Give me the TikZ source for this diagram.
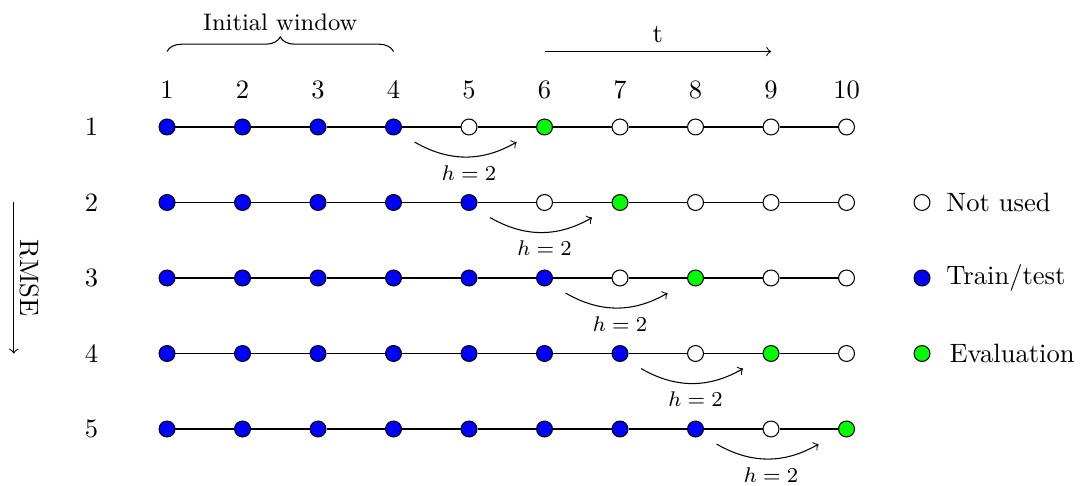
\documentclass[tikz,border=0pt]{standalone}
\usetikzlibrary{decorations.pathreplacing,calc}
\definecolor{evalgreen}{RGB}{0,255,0}
\begin{document}
\begin{tikzpicture}[
  pt/.style={circle,draw=black,thin,minimum size=6pt,inner sep=0pt},
  hlabel/.style={font=\footnotesize},
  link/.style={draw=black,thin},
  harrow/.style={->,thin},
  ]
\useasboundingbox (-1.212,0.682) rectangle (13.106,-5.742);
% column numbers
\foreach \c in {1,...,10} \node (col\c) at (\c,-0.51) {\c};
% rows
\foreach \r in {1,...,5}{
  \node (row\r) at (0,-\r) {\r};
  \pgfmathtruncatemacro{\ev}{\r+5}
  \foreach \c in {1,...,10}{
    \ifnum\c<\numexpr\r+4\relax \def\fc{blue}\else\ifnum\c=\ev \def\fc{evalgreen}\else\def\fc{white}\fi\fi
    \node[pt,fill=\fc] (p\r-\c) at (\c,-\r) {};
  }
  \foreach \c [evaluate=\c as \n using int(\c+1)] in {1,...,9}{
    \draw[link] (p\r-\c) -- (p\r-\n);
  }
  \pgfmathtruncatemacro{\a}{\r+3}
  \pgfmathtruncatemacro{\m}{\r+4}
  \draw[harrow] ($(p\r-\a)+(0.28,-0.2)$) to[bend right=30] ($(p\r-\ev)+(-0.37,-0.2)$);
  \node[hlabel] (h\r) at (\m,-\r-0.61) {$h=2$};
}
% brace
\coordinate (bl) at (1,0);
\coordinate (br) at (4,0);
\draw[decorate,decoration={brace,amplitude=5.5pt}] (bl) -- (br);
\node[font=\small] (iw) at (2.5,0.39) {Initial window};
% time arrow
\coordinate (ts) at (6,0);
\coordinate (te) at (9,0);
\draw[->] (ts) -- (te);
\node (t) at (7.5,0.22) {t};
% RMSE arrow
\coordinate (rs) at (-1.03,-2);
\coordinate (re) at (-1.03,-4);
\draw[->] (rs) -- (re);
\node[rotate=-90] (rmse) at (-0.82,-3) {RMSE};
% legend
\node[pt,fill=white] (l1) at (11,-2) {};
\node[anchor=west] (l1t) at (11.2,-2) {Not used};
\node[pt,fill=blue] (l2) at (11,-3) {};
\node[anchor=west] (l2t) at (11.2,-3) {Train/test};
\node[pt,fill=evalgreen] (l3) at (11,-4) {};
\node[anchor=west] (l3t) at (11.24,-4) {Evaluation};
\end{tikzpicture}
\end{document}
